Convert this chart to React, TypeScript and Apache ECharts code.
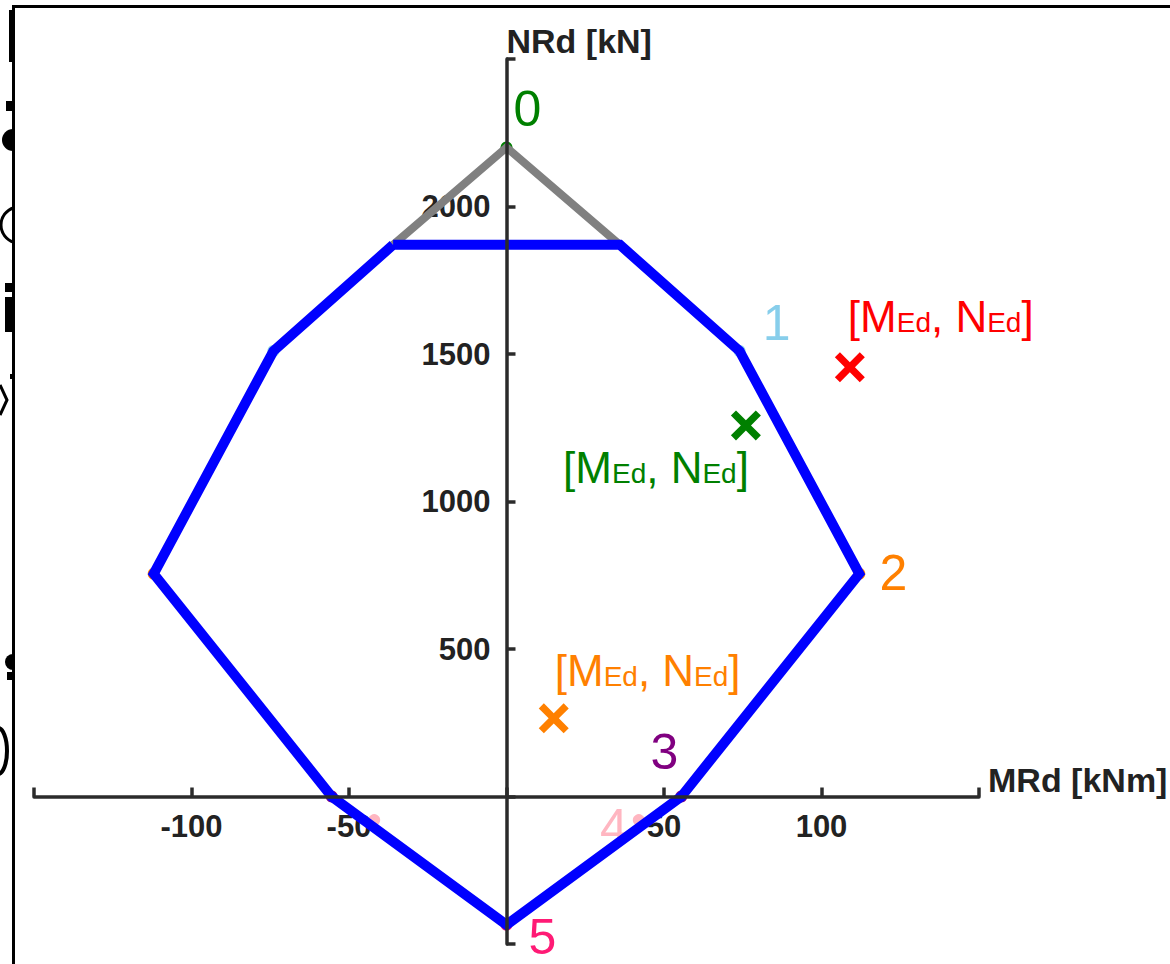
import React, { useEffect, useRef } from 'react';
import * as echarts from 'echarts';

// Interaction diagram points (MRd [kNm], NRd [kN])
const pointIds = ['0', '1', '2', '3', '4', '5'];
const pointM = [0, 74, 112, 55.5, 42, 0];
const pointN = [2200, 1510, 755, 0, -80, -435];
const mirrorM = [-74, -112, -55.5, -42];
const mirrorN = [1510, 755, 0, -80];
// blue resistance polygon
const boundaryM = [-36, 36, 74, 112, 55.5, 0, -55.5, -112, -74, -36];
const boundaryN = [1870, 1870, 1510, 755, 0, -435, 0, 755, 1510, 1870];
// grey cap (point 0)
const capM = [-36, 0, 36];
const capN = [1870, 2200, 1870];
// design load points [MEd, NEd]
const loadM = [109, 76, 15];
const loadN = [1455, 1258, 265];
// axis ranges and tick labels
const xMin = -150, xMax = 150, xStep = 50;
const yMin = -500, yMax = 2500, yStep = 500;
const xTickLabels = [-100, -50, 50, 100];
const yTickLabels = [500, 1000, 1500, 2000];

const pointColors = ['#008000', '#87ceeb', '#ff8000', '#800080', '#ffb6c1', '#ff1a75'];
const mirrorColors = ['#87ceeb', '#ff8000', '#800080', '#ffb6c1'];
const pointLabelOffsets = [[21, -39], [37, -28], [34, -1], [-17, -45], [-25, 7], [36, 12]];
const loadColors = ['#ff0000', '#008000', '#ff8000'];
const loadLabelPos = [
  { position: [13, -14], align: 'left', verticalAlign: 'bottom' },
  { position: [18, 35], align: 'right', verticalAlign: 'top' },
  { position: [16, -11], align: 'left', verticalAlign: 'bottom' },
];

const FONT = '"Liberation Sans", Arial, sans-serif';
const AXIS_COLOR = '#2b2b2b';
const X_SYMBOL = 'path://M1.7,0L5,3.3L8.3,0L10,1.7L6.7,5L10,8.3L8.3,10L5,6.7L1.7,10L0,8.3L3.3,5L0,1.7Z';

const GRID = { left: 34, right: 191, top: 59, bottom: 20 };
const W = 1170, H = 964;

export default function App() {
  const ref = useRef<HTMLDivElement>(null);

  useEffect(() => {
    if (!ref.current) return;
    const chart = echarts.init(ref.current, undefined, { renderer: 'svg' });

    // offsets that bring the label-only axes onto the zero lines
    const gw = W - GRID.left - GRID.right;
    const gh = H - GRID.top - GRID.bottom;
    const xLabelOffset = -(gh * (0 - yMin)) / (yMax - yMin);
    const yLabelOffset = -(gw * (0 - xMin)) / (xMax - xMin);

    const labelAxisCommon = {
      type: 'value',
      axisTick: { show: false },
      axisLine: { show: false, onZero: false },
      splitLine: { show: false },
      z: 0,
    };
    const lineAxisCommon = {
      type: 'value',
      axisLabel: { show: false },
      splitLine: { show: false },
      axisTick: { show: true, inside: true, length: 9, lineStyle: { color: AXIS_COLOR, width: 3.5 } },
      nameMoveOverlap: false,
      z: 10,
    };
    const nameStyle = {
      fontSize: 34,
      fontWeight: 'bold',
      color: '#222',
      fontFamily: FONT,
      align: 'left',
      verticalAlign: 'bottom',
    };

    const option: any = {
      animation: false,
      backgroundColor: '#ffffff',
      textStyle: { fontFamily: FONT },
      grid: { ...GRID, containLabel: false, outerBoundsMode: 'none' },
      xAxis: [
        {
          ...labelAxisCommon,
          min: xMin, max: xMax, interval: xStep, position: 'bottom', offset: xLabelOffset,
          axisLabel: {
            formatter: (v: number) => (xTickLabels.includes(v) ? String(v) : ''),
            fontSize: 31, fontWeight: 'bold', color: '#222', margin: 14, fontFamily: FONT,
          },
        },
        {
          ...lineAxisCommon,
          min: xMin, max: xMax, interval: xStep, position: 'bottom',
          axisLine: { show: true, onZero: true, onZeroAxisIndex: 0, lineStyle: { color: AXIS_COLOR, width: 3.5 } },
          name: 'MRd [kNm]', nameLocation: 'end', nameGap: 9,
          nameTextStyle: nameStyle,
        },
      ],
      yAxis: [
        {
          ...labelAxisCommon,
          min: yMin, max: yMax, interval: yStep, position: 'left', offset: yLabelOffset,
          axisLabel: {
            formatter: (v: number) => (yTickLabels.includes(v) ? String(v) : ''),
            fontSize: 31, fontWeight: 'bold', color: '#222', margin: 16, fontFamily: FONT,
          },
        },
        {
          ...lineAxisCommon,
          min: yMin, max: yMax, interval: yStep, position: 'left',
          axisLine: { show: true, onZero: true, onZeroAxisIndex: 0, lineStyle: { color: AXIS_COLOR, width: 3.5 } },
          name: 'NRd [kN]', nameLocation: 'end', nameGap: 1,
          nameTextStyle: nameStyle,
        },
      ],
      series: [
        {
          type: 'scatter',
          name: 'points',
          symbol: 'circle',
          symbolSize: 12,
          z: 1,
          itemStyle: { opacity: 1 },
          data: pointIds.map((id, i) => ({
            value: [pointM[i], pointN[i]],
            name: id,
            itemStyle: { color: pointColors[i], opacity: 1 },
            label: {
              show: true,
              formatter: id,
              position: [6 + pointLabelOffsets[i][0], 6 + pointLabelOffsets[i][1]],
              align: 'center',
              verticalAlign: 'middle',
              fontSize: 50,
              lineHeight: 46,
              fontFamily: FONT,
              color: pointColors[i],
            },
          })),
        },
        {
          type: 'scatter',
          name: 'mirror',
          symbol: 'circle',
          symbolSize: 12,
          z: 1,
          itemStyle: { opacity: 1 },
          data: mirrorM.map((m, i) => ({
            value: [m, mirrorN[i]],
            itemStyle: { color: mirrorColors[i], opacity: 1 },
          })),
        },
        {
          type: 'line',
          name: 'cap',
          z: 2,
          showSymbol: false,
          symbol: 'none',
          lineStyle: { color: '#808080', width: 8, join: 'miter' },
          data: capM.map((m, i) => [m, capN[i]]),
        },
        {
          type: 'line',
          name: 'boundary',
          z: 3,
          showSymbol: false,
          symbol: 'none',
          lineStyle: { color: '#0000ff', width: 10, join: 'miter' },
          data: boundaryM.map((m, i) => [m, boundaryN[i]]),
        },
        {
          type: 'scatter',
          name: 'loads',
          symbol: X_SYMBOL,
          symbolSize: 30,
          z: 4,
          itemStyle: { opacity: 1 },
          data: loadM.map((m, i) => ({
            value: [m, loadN[i]],
            itemStyle: { color: loadColors[i], opacity: 1 },
            label: {
              show: true,
              formatter: '{m|[M}{s|Ed}{m|, N}{s|Ed}{m|]}',
              ...loadLabelPos[i],
              color: loadColors[i],
              rich: {
                m: { fontSize: 44, fontFamily: FONT, color: loadColors[i], verticalAlign: 'bottom' },
                s: { fontSize: 28, fontFamily: FONT, color: loadColors[i], verticalAlign: 'bottom', padding: [0, 0, 2, 0] },
              },
            },
          })),
        },
      ],
      graphic: [
        { type: 'line', shape: { x1: 12, y1: 6.5, x2: 1170, y2: 6.5 }, style: { stroke: '#000', lineWidth: 3 } },
        { type: 'line', shape: { x1: 13.5, y1: 5, x2: 13.5, y2: 964 }, style: { stroke: '#000', lineWidth: 3 } },
        { type: 'rect', shape: { x: 9, y: 10, width: 4, height: 52 }, style: { fill: '#000' } },
        { type: 'rect', shape: { x: 6, y: 101, width: 7, height: 10 }, style: { fill: '#000' } },
        { type: 'sector', shape: { cx: 13, cy: 140, r: 11, r0: 0, startAngle: Math.PI / 2, endAngle: Math.PI * 1.5 }, style: { fill: '#000' } },
        { type: 'arc', shape: { cx: 19, cy: 225, r: 18, startAngle: 1.85, endAngle: 4.43 }, style: { stroke: '#000', lineWidth: 3, fill: 'none' } },
        { type: 'rect', shape: { x: 5, y: 283, width: 8, height: 9 }, style: { fill: '#000' } },
        { type: 'rect', shape: { x: 5, y: 297, width: 8, height: 35 }, style: { fill: '#000' } },
        { type: 'rect', shape: { x: 10, y: 374, width: 3, height: 5 }, style: { fill: '#000' } },
        { type: 'polyline', shape: { points: [[0, 385], [7, 400], [0, 415]] }, style: { stroke: '#000', lineWidth: 3, fill: 'none' } },
        { type: 'sector', shape: { cx: 13, cy: 662, r: 8, r0: 0, startAngle: Math.PI / 2, endAngle: Math.PI * 1.5 }, style: { fill: '#000' } },
        { type: 'rect', shape: { x: 7, y: 672, width: 6, height: 8 }, style: { fill: '#000' } },
        { type: 'ellipse', shape: { cx: -2, cy: 751, rx: 9, ry: 23 }, style: { stroke: '#000', lineWidth: 4, fill: 'none' } },
      ],
    };

    chart.setOption(option);
    return () => chart.dispose();
  }, []);

  return (
    <div
      ref={ref}
      style={{ position: 'fixed', left: 0, top: 0, width: W, height: H, background: '#fff' }}
    />
  );
}
